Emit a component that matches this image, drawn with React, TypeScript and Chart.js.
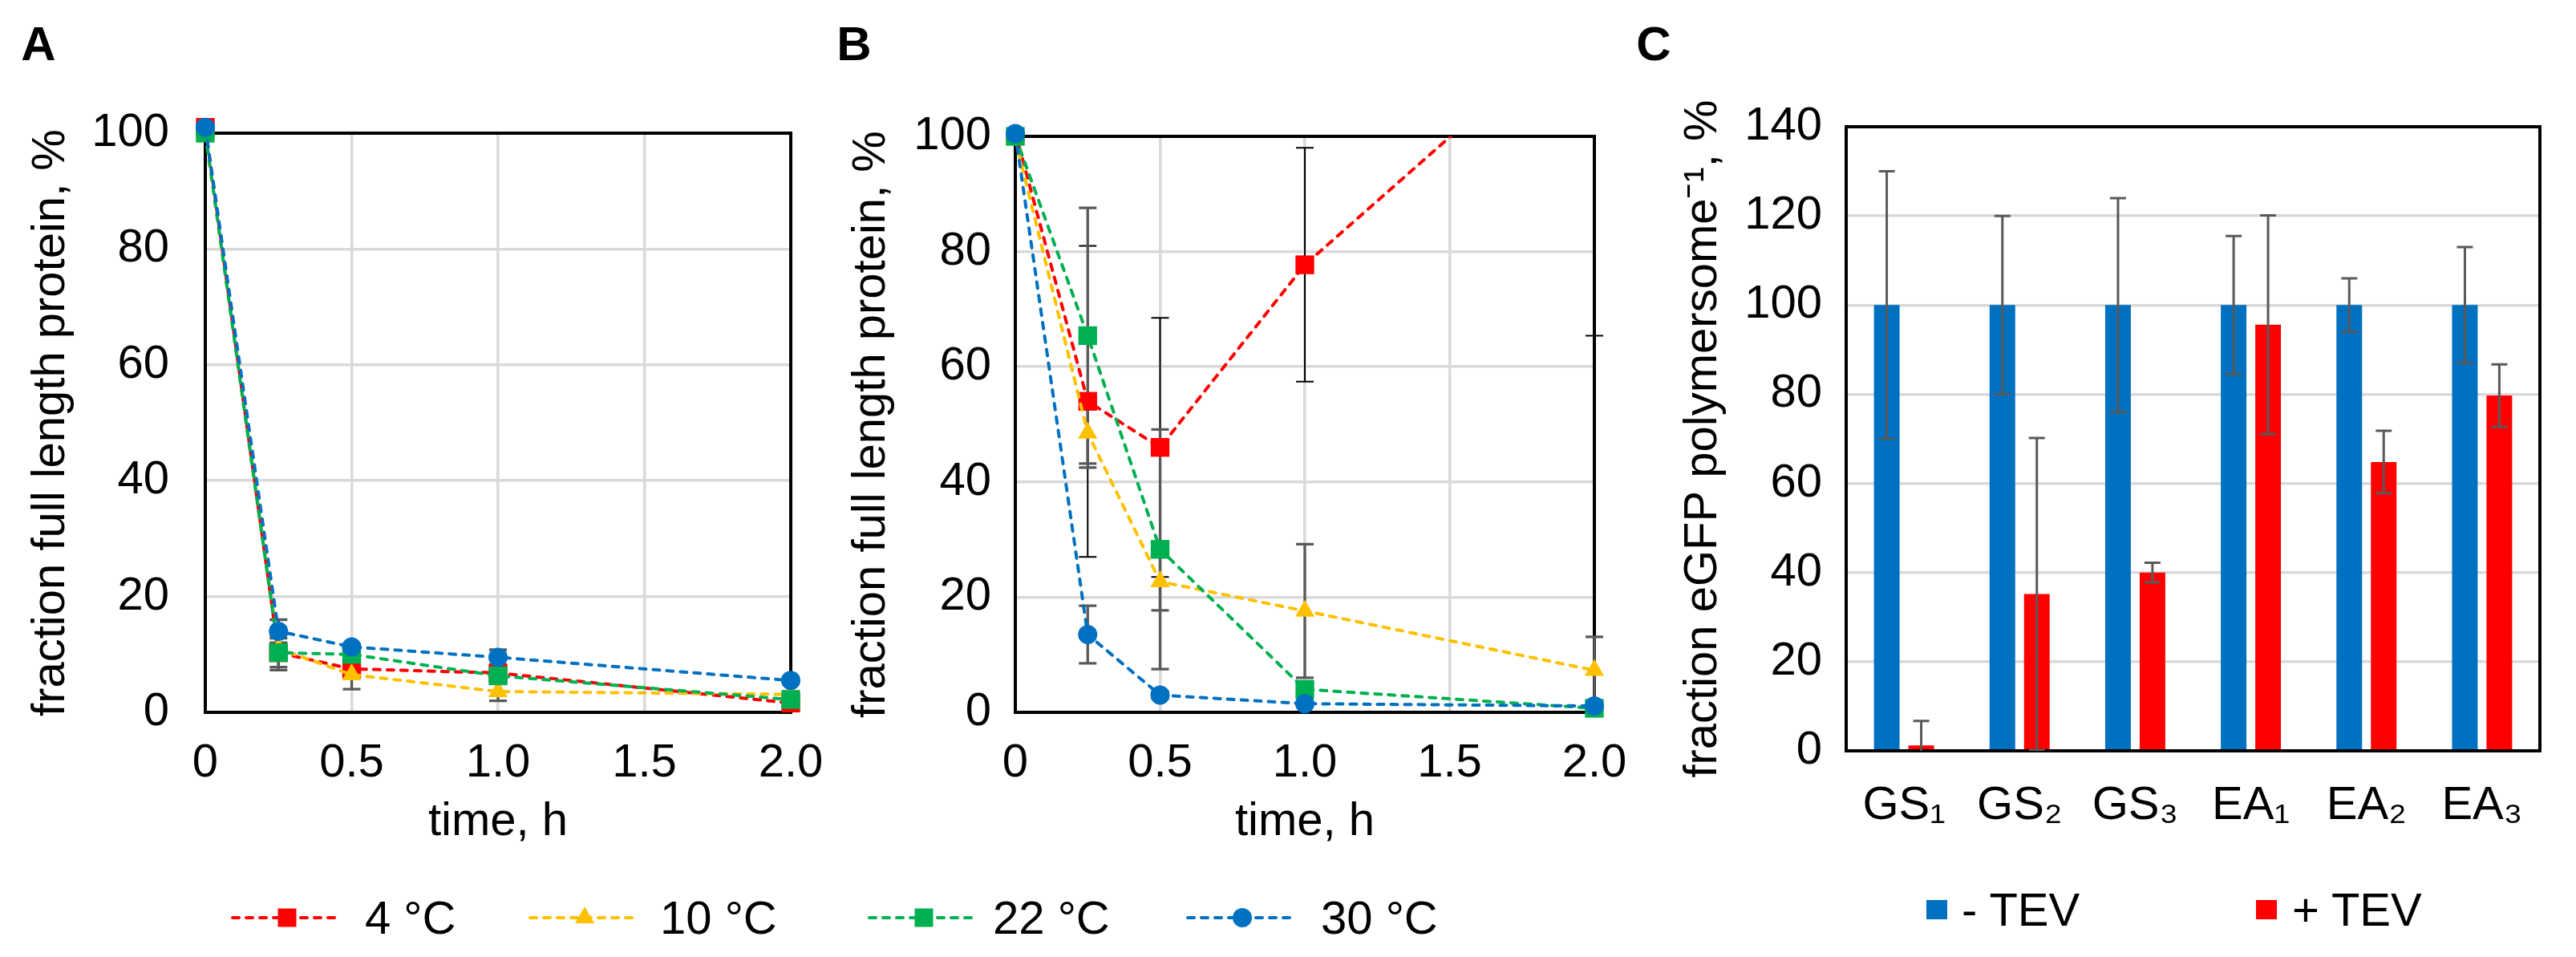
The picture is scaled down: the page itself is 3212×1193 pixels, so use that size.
import { useEffect, useRef } from "react"
import { Chart, registerables } from "chart.js"

Chart.register(...registerables)

const FONT = "'Liberation Sans', Arial, Helvetica, sans-serif"
Chart.defaults.font.family = FONT
Chart.defaults.color = "#000"

// time course, panels A and B
const times = [0, 0.25, 0.5, 1.0, 2.0]
const timeTicks = [0, 0.5, 1.0, 1.5, 2.0]
const timeTickLabels = ["0", "0.5", "1.0", "1.5", "2.0"]
const temps = ["4 °C", "10 °C", "22 °C", "30 °C"]

// panel A: fraction full length protein, %
const a4 = [101, 10.3, 7.5, 6.8, 1.6]
const a10 = [100, 11, 6.5, 3.6, 3.1]
const a22 = [100, 10.3, 10, 6.3, 2.2]
const a30 = [101, 14, 11.3, 9.5, 5.5]
const a4Err = [0, 3, 1, 1, 0.5]
const a10Err = [0, 1, 2.5, 1.6, 0.5]
const a22Err = [0, 2.5, 1.5, 1, 0.5]
const a30Err = [0, 2, 0.5, 1.3, 0.6]

// panel B
const b4 = [100.7, 54, 46, 77.7, 122]
const b10 = [99.5, 48.5, 22.7, 17.6, 7.3]
const b22 = [100, 65.4, 28.3, 4, 0.7]
const b30 = [100.5, 13.5, 3, 1.5, 1.1]
const b4Err = [0, 27, 22.5, 20.3, 56.6]
const b10Err = [0, 6, 5, 11.6, 5.8]
const b22Err = [0, 22.2, 20.8, 1, 0.5]
const b30Err = [0, 5, 0.6, 0.4, 0.3]

// panel C: fraction eGFP per polymersome, %
const constructs = ["GS₁", "GS₂", "GS₃", "EA₁", "EA₂", "EA₃"]
const minusTev = [100, 100, 100, 100, 100, 100]
const minusTevErr = [30, 20, 24, 15.5, 6, 13]
const plusTev = [1.2, 35.2, 40, 95.6, 64.8, 79.7]
const plusTevErr = [5.5, 35, 2.2, 24.5, 7, 7]

// styles
const tempColors = ["#ff0000", "#ffc000", "#00b050", "#0070c0"]
const tempMarkers = ["rect", "triangle", "rect", "circle"]
const markerRadius = [16.5, 14, 16.5, 12]
const GRID = "#d9d9d9"
const ERR_GRAY = "#595959"
const FS = 58

function drawErrorBars(chart: any) {
  const { ctx, chartArea } = chart
  const yScale = chart.scales.y
  ctx.save()
  ctx.beginPath()
  ctx.rect(chartArea.left - 30, chartArea.top, chartArea.right - chartArea.left + 60, chartArea.bottom - chartArea.top)
  ctx.clip()
  chart.data.datasets.forEach((ds: any, i: number) => {
    if (!ds.errors) return
    const meta = chart.getDatasetMeta(i)
    meta.data.forEach((el: any, j: number) => {
      const e = ds.errors[j]
      if (!e) return
      const raw = ds.data[j]
      const v = typeof raw === "number" ? raw : raw.y
      const x = el.x
      const top = yScale.getPixelForValue(v + e)
      const bot = yScale.getPixelForValue(v - e)
      const cap = ds.errorCap || 10
      ctx.strokeStyle = ds.errorColor || ERR_GRAY
      ctx.lineWidth = ds.errorWidth || 3
      ctx.beginPath()
      ctx.moveTo(x, top)
      ctx.lineTo(x, bot)
      ctx.moveTo(x - cap, top)
      ctx.lineTo(x + cap, top)
      ctx.moveTo(x - cap, bot)
      ctx.lineTo(x + cap, bot)
      ctx.stroke()
    })
  })
  ctx.restore()
}

const errorBars = {
  id: "errorBars",
  beforeDatasetsDraw(chart: any, _a: any, opts: any) {
    if (!opts.front) drawErrorBars(chart)
  },
  afterDatasetsDraw(chart: any, _a: any, opts: any) {
    if (opts.front) drawErrorBars(chart)
  },
}

function drawFrame(chart: any) {
  const { ctx, chartArea } = chart
  ctx.save()
  ctx.strokeStyle = "#000"
  ctx.lineWidth = 4
  ctx.strokeRect(chartArea.left, chartArea.top, chartArea.right - chartArea.left, chartArea.bottom - chartArea.top)
  ctx.restore()
}

const frame = {
  id: "frame",
  beforeDatasetsDraw(chart: any, _a: any, opts: any) {
    if (!opts.front) drawFrame(chart)
  },
  afterDatasetsDraw(chart: any, _a: any, opts: any) {
    if (opts.front) drawFrame(chart)
  },
}

type Box = { top: number; right: number; yAxisW: number; xAxisH: number; yTickPad: number; yTitlePad: number; xTickPad: number }

function timeCourseConfig(series: number[][], errors: number[][], errColors: string[], clipTop: boolean[], box: Box): any {
  return {
    type: "line",
    data: {
      datasets: series.map((ys, i) => ({
        label: temps[i],
        data: times.map((t, j) => ({ x: t, y: ys[j] })),
        errors: errors[i],
        errorColor: errColors[i],
        errorWidth: errColors[i] === "#000" ? 2 : 3.3,
        errorCap: 11,
        borderColor: tempColors[i],
        backgroundColor: tempColors[i],
        borderWidth: 4,
        borderDash: [8, 9],
        borderCapStyle: "round",
        pointStyle: tempMarkers[i],
        pointRadius: markerRadius[i],
        pointBorderWidth: 0,
        pointBackgroundColor: tempColors[i],
        order: series.length - i,
        clip: { left: 25, right: 25, bottom: 25, top: clipTop[i] ? 0 : 25 },
      })),
    },
    options: {
      responsive: false,
      animation: false,
      layout: { padding: { left: 0, top: box.top, right: box.right, bottom: 0 } },
      plugins: {
        legend: { display: false },
        tooltip: { enabled: false },
        errorBars: { front: false },
        frame: { front: false },
      },
      scales: {
        x: {
          type: "linear",
          min: 0,
          max: 2,
          afterFit: (s: any) => {
            s.height = box.xAxisH
          },
          ticks: {
            stepSize: 0.5,
            padding: box.xTickPad,
            font: { size: FS },
            color: "#000",
            callback: (v: any) => {
              const k = timeTicks.indexOf(Number(v))
              return k >= 0 ? timeTickLabels[k] : ""
            },
          },
          grid: { color: GRID, lineWidth: 3.5, drawTicks: false },
          border: { display: false },
          title: { display: true, text: "time, h", font: { size: FS }, color: "#000", padding: 0 },
        },
        y: {
          min: 0,
          max: 100,
          afterFit: (s: any) => {
            s.width = box.yAxisW
          },
          ticks: { stepSize: 20, padding: box.yTickPad, font: { size: FS }, color: "#000" },
          grid: { color: GRID, lineWidth: 3.5, drawTicks: false },
          border: { display: false },
          title: {
            display: true,
            text: "fraction full length protein, %",
            font: { size: FS },
            color: "#000",
            padding: { top: box.yTitlePad, bottom: 0 },
          },
        },
      },
    },
    plugins: [frame, errorBars],
  }
}

function barConfig(box: Box): any {
  return {
    type: "bar",
    data: {
      labels: constructs,
      datasets: [
        {
          label: "- TEV",
          data: minusTev,
          errors: minusTevErr,
          backgroundColor: "#0070c0",
          categoryPercentage: 0.596,
          barPercentage: 0.744,
        },
        {
          label: "+ TEV",
          data: plusTev,
          errors: plusTevErr,
          backgroundColor: "#ff0000",
          categoryPercentage: 0.596,
          barPercentage: 0.744,
        },
      ].map((d) => ({ ...d, errorColor: ERR_GRAY, errorWidth: 3, errorCap: 10 })),
    },
    options: {
      responsive: false,
      animation: false,
      layout: { padding: { left: 0, top: box.top, right: box.right, bottom: 0 } },
      plugins: {
        legend: { display: false },
        tooltip: { enabled: false },
        errorBars: { front: true },
        frame: { front: true },
      },
      scales: {
        x: {
          afterFit: (s: any) => {
            s.height = box.xAxisH
          },
          ticks: { padding: box.xTickPad, font: { size: FS }, color: "#000" },
          grid: { display: false, drawTicks: false },
          border: { display: false },
        },
        y: {
          min: 0,
          max: 140,
          afterFit: (s: any) => {
            s.width = box.yAxisW
          },
          ticks: { stepSize: 20, padding: box.yTickPad, font: { size: FS }, color: "#000" },
          grid: { color: GRID, lineWidth: 3.5, drawTicks: false },
          border: { display: false },
          title: {
            display: true,
            text: "fraction eGFP polymersome⁻¹, %",
            font: { size: FS },
            color: "#000",
            padding: { top: box.yTitlePad, bottom: 0 },
          },
        },
      },
    },
    plugins: [frame, errorBars],
  }
}

function ChartCanvas({ left, top, width, height, makeConfig }: { left: number; top: number; width: number; height: number; makeConfig: () => any }) {
  const ref = useRef<HTMLCanvasElement>(null)
  const inst = useRef<Chart | null>(null)

  useEffect(() => {
    if (!ref.current) return
    if (inst.current) inst.current.destroy()
    inst.current = new Chart(ref.current, makeConfig())
    return () => {
      if (inst.current) {
        inst.current.destroy()
        inst.current = null
      }
    }
  }, [])

  return <canvas ref={ref} width={width} height={height} style={{ position: "absolute", left, top, width, height }} />
}

function PanelLetter({ text, cx, cy }: { text: string; cx: number; cy: number }) {
  return (
    <div
      style={{
        position: "absolute",
        left: cx,
        top: cy,
        transform: "translate(-50%, -50%)",
        fontWeight: "bold",
        fontSize: 60,
        lineHeight: 1,
      }}
    >
      {text}
    </div>
  )
}

function LineLegendItem({ x, textX, cy, color, shape, label }: any) {
  return (
    <>
      <svg width={140} height={40} style={{ position: "absolute", left: x, top: cy - 20 }}>
        <line x1={2} y1={20} x2={138} y2={20} stroke={color} strokeWidth={4} strokeDasharray="8 9" strokeLinecap="round" />
        {shape === "rect" && <rect x={58.5} y={8.5} width={23} height={23} fill={color} />}
        {shape === "triangle" && <polygon points="70,6 82,27 58,27" fill={color} />}
        {shape === "circle" && <circle cx={70} cy={20} r={12} fill={color} />}
      </svg>
      <div style={{ position: "absolute", left: textX, top: cy, transform: "translateY(-50%)", fontSize: FS, lineHeight: 1, whiteSpace: "nowrap" }}>
        {label}
      </div>
    </>
  )
}

function BoxLegendItem({ x, textX, cy, color, label }: any) {
  return (
    <>
      <div style={{ position: "absolute", left: x, top: cy - 12, width: 26, height: 24, background: color }} />
      <div style={{ position: "absolute", left: textX, top: cy, transform: "translateY(-50%)", fontSize: FS, lineHeight: 1, whiteSpace: "nowrap" }}>
        {label}
      </div>
    </>
  )
}

const lineLegendX = [288, 659, 1082, 1479]
const lineLegendTextX = [455, 823, 1238, 1647]

export default function App() {
  useEffect(() => {
    document.body.style.margin = "0"
  }, [])

  const boxA: Box = { top: 166, right: 94, yAxisW: 256, xAxisH: 172, yTickPad: 45, yTitlePad: 29, xTickPad: 29 }
  const boxB: Box = { top: 170, right: 102, yAxisW: 256, xAxisH: 172, yTickPad: 30, yTitlePad: 42, xTickPad: 29 }
  const boxC: Box = { top: 158, right: 45, yAxisW: 252, xAxisH: 124, yTickPad: 30, yTitlePad: 39, xTickPad: 34 }

  return (
    <div
      style={{
        position: "relative",
        width: 3212,
        height: 1193,
        background: "#fff",
        overflow: "hidden",
        fontFamily: FONT,
        color: "#000",
      }}
    >
      <ChartCanvas
        left={0}
        top={0}
        width={1080}
        height={1060}
        makeConfig={() =>
          timeCourseConfig([a4, a10, a22, a30], [a4Err, a10Err, a22Err, a30Err], [ERR_GRAY, ERR_GRAY, ERR_GRAY, ERR_GRAY], [false, false, false, false], boxA)
        }
      />
      <ChartCanvas
        left={1010}
        top={0}
        width={1080}
        height={1060}
        makeConfig={() =>
          timeCourseConfig([b4, b10, b22, b30], [b4Err, b10Err, b22Err, b30Err], ["#000", ERR_GRAY, ERR_GRAY, ERR_GRAY], [true, false, false, false], boxB)
        }
      />
      <ChartCanvas left={2050} top={0} width={1162} height={1060} makeConfig={() => barConfig(boxC)} />

      <PanelLetter text="A" cx={48} cy={55} />
      <PanelLetter text="B" cx={1065} cy={55} />
      <PanelLetter text="C" cx={2062} cy={55} />

      {temps.map((t, i) => (
        <LineLegendItem
          key={t}
          x={lineLegendX[i]}
          textX={lineLegendTextX[i]}
          cy={1144}
          color={tempColors[i]}
          shape={tempMarkers[i]}
          label={t}
        />
      ))}
      <BoxLegendItem x={2402} textX={2446} cy={1134} color="#0070c0" label="- TEV" />
      <BoxLegendItem x={2813} textX={2858} cy={1134} color="#ff0000" label="+ TEV" />
    </div>
  )
}
